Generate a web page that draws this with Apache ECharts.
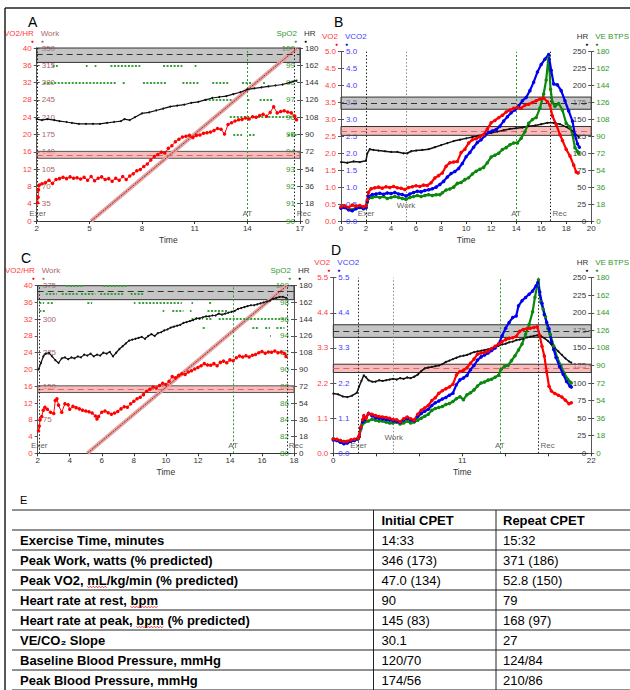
<!DOCTYPE html>
<html>
<head>
<meta charset="utf-8">
<script src="https://cdn.jsdelivr.net/npm/echarts@6/dist/echarts.min.js"></script>
<style>
html,body{margin:0;padding:0;background:#fff;}
#chart{width:630px;height:690px;}
</style>
</head>
<body>
<div id="chart"></div>
<script>
// ---------- Panel A: initial CPET, O2 pulse / work / SpO2 / HR ----------
const hrA = [[2.0,106],[2.3,105],[2.6,106],[3.0,105],[3.3,104],[3.7,103],[4.0,102],[4.4,101],[4.8,101],[5.2,101],[5.6,101],[6.0,102],[6.4,103],[6.8,104],[7.0,106],[7.3,105],[7.6,108],[8.0,112],[8.4,113],[8.8,115],[9.2,117],[9.6,119],[10.0,120],[10.4,121],[10.8,123],[11.2,124],[11.6,126],[12.0,128],[12.4,129],[12.8,130],[13.2,132],[13.6,134],[14.0,137],[14.4,138],[14.8,139],[15.2,140],[15.6,141],[16.0,142],[16.4,144],[16.8,146]];
const o2PulseA = [[2.05,4.2],[2.08,5.5],[2.1,7.2],[2.15,8.3],[2.3,8.6],[2.5,8.9],[2.7,9.4],[2.9,8.7],[3.1,9.6],[3.3,9.8],[3.5,10.1],[3.7,9.8],[3.9,10.2],[4.1,9.9],[4.3,10.0],[4.5,9.7],[4.7,10.1],[4.9,9.4],[5.1,10.3],[5.3,9.3],[5.5,9.9],[5.7,10.2],[5.9,9.6],[6.1,9.8],[6.3,9.2],[6.5,9.9],[6.7,9.4],[6.9,10.3],[7.1,9.6],[7.3,10.4],[7.5,10.9],[7.7,11.6],[7.9,11.9],[8.1,12.6],[8.3,13.2],[8.5,14.1],[8.7,14.9],[8.9,15.4],[9.1,15.9],[9.3,15.7],[9.5,16.8],[9.7,17.4],[9.9,18.3],[10.1,18.9],[10.3,19.4],[10.5,19.6],[10.7,19.8],[10.9,19.3],[11.1,19.8],[11.3,19.9],[11.5,20.3],[11.7,20.4],[11.9,20.6],[12.1,20.9],[12.3,21.4],[12.5,21.2],[12.7,20.1],[12.9,22.3],[13.1,22.7],[13.3,23.1],[13.5,23.4],[13.7,23.5],[13.9,23.8],[14.1,23.6],[14.3,24.1],[14.5,24.0],[14.7,24.4],[14.9,24.7],[15.1,24.2],[15.3,25.1],[15.5,26.4],[15.7,25.0],[15.9,25.3],[16.1,25.5],[16.3,25.2],[16.5,25.0],[16.7,24.3],[16.8,23.4]];
const workA = [[5.1,0],[16.85,350]];
// SpO2 readings: [start min, end min, SpO2 %]
const spo2A = [[2.9,3.2,99],[4.8,4.9,99],[5.3,5.4,99],[6.2,7.9,99],[9.2,10.3,99],[11.0,11.1,99],
  [2.4,6.5,98],[6.9,7.1,98],[8.05,9.4,98],[10.3,11.25,98],[12.0,12.95,98],[13.7,14.3,98],[14.9,15.0,98],
  [11.6,13.1,97],[14.0,14.2,97],[14.7,15.5,97],
  [13.0,16.8,96],
  [13.2,13.7,95],[14.1,14.5,95],[16.3,16.8,95]];
const eventNamesA = ['Exer','AT','Rec'];
const eventTimesA = [2.05,14.0,16.7];

// ---------- Panel B: initial CPET, gas exchange ----------
const vo2B = [[0.0,0.42],[0.3,0.45],[0.6,0.40],[0.9,0.47],[1.2,0.44],[1.5,0.46],[1.8,0.42],[2.0,0.45],[2.1,0.62],[2.2,0.85],[2.4,0.95],[2.7,0.98],[3.0,1.00],[3.3,0.97],[3.6,1.01],[3.9,0.99],[4.2,1.02],[4.5,0.98],[4.8,0.97],[5.1,0.93],[5.4,0.99],[5.7,1.01],[6.0,1.04],[6.3,1.02],[6.6,1.06],[6.9,1.05],[7.2,1.13],[7.5,1.27],[7.8,1.34],[8.1,1.42],[8.4,1.62],[8.7,1.72],[9.0,1.74],[9.3,1.76],[9.6,2.02],[9.9,2.12],[10.2,2.30],[10.5,2.40],[10.8,2.43],[11.1,2.49],[11.4,2.55],[11.7,2.72],[12.0,2.90],[12.3,2.97],[12.6,3.05],[12.9,3.12],[13.2,3.22],[13.5,3.28],[13.8,3.33],[14.1,3.36],[14.4,3.33],[14.7,3.42],[15.0,3.45],[15.3,3.50],[15.6,3.55],[15.9,3.60],[16.2,3.63],[16.5,3.52],[16.7,3.42],[16.9,3.10],[17.2,2.85],[17.5,2.55],[17.7,2.38],[18.0,2.12],[18.3,1.92],[18.6,1.65],[18.8,1.45],[18.95,1.42]];
const vco2B = [[0.0,0.38],[0.3,0.40],[0.6,0.33],[0.9,0.30],[1.2,0.36],[1.5,0.40],[1.8,0.37],[2.0,0.40],[2.1,0.58],[2.2,0.72],[2.5,0.78],[2.8,0.80],[3.1,0.82],[3.4,0.79],[3.7,0.83],[4.0,0.81],[4.3,0.84],[4.6,0.80],[4.9,0.78],[5.2,0.74],[5.5,0.80],[5.8,0.84],[6.1,0.88],[6.4,0.86],[6.7,0.90],[7.0,0.92],[7.3,0.95],[7.6,1.00],[7.9,1.08],[8.2,1.17],[8.5,1.30],[8.8,1.40],[9.1,1.46],[9.4,1.55],[9.7,1.70],[10.0,1.90],[10.3,2.02],[10.6,2.18],[10.9,2.32],[11.2,2.40],[11.5,2.52],[11.8,2.62],[12.1,2.66],[12.4,2.70],[12.7,2.80],[13.0,2.95],[13.3,3.08],[13.6,3.20],[13.9,3.28],[14.2,3.40],[14.5,3.55],[14.8,3.65],[15.1,3.85],[15.4,4.10],[15.7,4.40],[16.0,4.62],[16.3,4.78],[16.6,4.92],[16.8,4.45],[17.0,4.05],[17.3,4.02],[17.6,3.85],[17.9,3.55],[18.2,3.25],[18.5,2.95],[18.7,2.55],[18.9,2.28],[19.05,2.18]];
const veB = [[0.0,14],[0.3,15],[0.6,13],[0.9,12],[1.2,14],[1.5,15],[1.8,13],[2.0,14],[2.1,20],[2.2,24],[2.5,25],[2.8,26],[3.1,25],[3.4,26],[3.7,24],[4.0,25],[4.3,26],[4.6,25],[4.9,24],[5.2,23],[5.5,25],[5.8,26],[6.1,27],[6.4,26],[6.7,27],[7.0,28],[7.3,27],[7.6,28],[7.9,28],[8.1,30],[8.4,33],[8.7,34],[9.0,36],[9.3,40],[9.6,41],[9.9,44],[10.2,46],[10.5,50],[10.8,53],[11.1,55],[11.4,57],[11.7,62],[12.0,68],[12.3,70],[12.6,72],[12.9,76],[13.2,78],[13.5,81],[13.8,83],[14.1,83],[14.4,88],[14.7,95],[15.0,104],[15.3,108],[15.6,110],[15.9,120],[16.2,135],[16.4,150],[16.6,176],[16.75,140],[16.9,126],[17.1,122],[17.4,125],[17.7,118],[18.0,104],[18.3,100],[18.5,92],[18.7,78],[18.9,74],[19.0,72]];
const hrB = [[0.0,87],[0.5,86],[1.0,88],[1.5,87],[2.0,89],[2.1,100],[2.3,106],[2.6,105],[3.0,104],[3.5,103],[4.0,102],[4.5,102],[5.0,100],[5.3,100],[5.6,103],[6.0,104],[6.5,105],[7.0,106],[7.5,109],[8.0,112],[8.5,115],[9.0,118],[9.5,120],[10.0,122],[10.5,124],[11.0,126],[11.5,128],[12.0,130],[12.5,132],[13.0,134],[13.5,136],[14.0,137],[14.5,138],[15.0,140],[15.5,141],[16.0,143],[16.5,145],[17.0,145],[17.5,143],[18.0,139],[18.5,133],[19.0,124]];
const eventNamesB = ['Exer','Work','AT','Rec'];
const eventTimesB = [2.0,5.2,14.0,16.75];

// ---------- Panel C: repeat CPET, O2 pulse / work / SpO2 / HR ----------
const hrC = [[2.05,90],[2.2,97],[2.35,104],[2.5,107],[2.7,108],[2.9,104],[3.1,100],[3.3,97],[3.5,102],[3.7,103],[3.9,101],[4.1,103],[4.3,102],[4.5,104],[4.7,103],[4.9,106],[5.1,105],[5.3,107],[5.5,104],[5.7,106],[5.9,105],[6.1,108],[6.3,107],[6.5,109],[6.7,104],[6.9,108],[7.1,112],[7.3,115],[7.5,118],[7.7,121],[7.9,122],[8.1,123],[8.3,124],[8.5,125],[8.7,123],[8.9,126],[9.1,128],[9.3,126],[9.5,129],[9.7,130],[9.9,132],[10.1,133],[10.3,135],[10.5,136],[10.7,137],[10.9,138],[11.1,140],[11.3,141],[11.5,142],[11.7,143],[11.9,145],[12.1,145],[12.3,146],[12.5,147],[12.7,147],[12.9,148],[13.1,148],[13.3,150],[13.5,149],[13.7,150],[13.9,151],[14.1,152],[14.3,153],[14.5,155],[14.7,156],[14.9,157],[15.1,158],[15.3,159],[15.5,159],[15.7,160],[15.9,161],[16.1,162],[16.3,163],[16.5,164],[16.7,166],[16.9,167],[17.1,168],[17.3,168],[17.5,167]];
const o2PulseC = [[2.05,5.4],[2.1,6.5],[2.15,8.0],[2.25,8.8],[2.35,10.3],[2.45,11.0],[2.6,10.5],[2.8,9.8],[3.0,9.5],[3.1,12.6],[3.2,13.0],[3.3,11.5],[3.5,9.8],[3.7,11.8],[3.9,11.6],[4.0,10.5],[4.2,11.2],[4.4,10.9],[4.6,10.6],[4.8,10.3],[5.0,10.1],[5.2,9.9],[5.4,9.6],[5.6,8.9],[5.7,8.2],[5.8,8.8],[6.0,9.8],[6.2,10.1],[6.4,9.7],[6.6,9.3],[6.8,9.6],[7.0,10.0],[7.2,10.6],[7.4,11.1],[7.6,11.0],[7.8,11.8],[8.0,12.4],[8.2,13.0],[8.4,13.4],[8.6,14.0],[8.8,14.8],[9.0,15.3],[9.2,15.8],[9.4,15.6],[9.6,16.2],[9.8,16.7],[10.0,16.4],[10.2,17.2],[10.4,18.3],[10.6,18.0],[10.8,18.6],[11.0,19.0],[11.2,18.8],[11.4,19.4],[11.6,19.7],[11.8,20.1],[12.0,20.5],[12.2,20.9],[12.4,21.4],[12.6,21.1],[12.8,21.0],[13.0,21.4],[13.2,20.9],[13.4,21.7],[13.6,22.0],[13.8,21.6],[14.0,22.3],[14.2,22.1],[14.4,22.8],[14.6,23.2],[14.8,23.0],[15.0,23.3],[15.2,23.0],[15.4,23.4],[15.6,23.6],[15.8,24.0],[16.0,24.3],[16.2,23.9],[16.4,24.2],[16.6,24.1],[16.8,24.4],[17.0,24.0],[17.2,24.2],[17.4,23.8],[17.5,23.1]];
const workC = [[5.1,0],[17.55,375]];
const spo2C = [[3.8,4.85,100],[6.1,7.55,100],
  [2.5,3.2,99],[3.5,4.5,99],[4.7,5.6,99],[5.9,7.4,99],[7.8,8.6,99],
  [2.1,2.4,98],[2.6,3.0,98],[5.1,5.4,98],[8.0,8.1,98],[8.3,11.0,98],[11.6,11.7,98],[12.7,12.9,98],
  [2.1,2.5,97],[9.8,9.9,97],[10.4,11.1,97],[11.5,11.6,97],[12.6,13.9,97],
  [11.6,12.3,96],[12.5,12.9,96],[13.3,17.5,96],
  [12.3,12.5,95],[15.4,15.8,95],[16.2,16.5,95],[16.9,17.4,95],
  [16.5,16.55,94]];
const eventNamesC = ['Exer','AT','Rec'];
const eventTimesC = [2.1,14.2,17.55];

// ---------- Panel D: repeat CPET, gas exchange ----------
const vo2D = [[0.0,0.45],[0.3,0.44],[0.6,0.40],[0.9,0.37],[1.2,0.38],[1.5,0.42],[1.8,0.44],[2.1,0.47],[2.2,0.55],[2.35,0.82],[2.5,1.05],[2.6,1.18],[2.8,1.10],[3.0,1.25],[3.3,1.22],[3.6,1.18],[3.9,1.15],[4.2,1.14],[4.5,1.12],[4.8,1.10],[5.1,1.06],[5.4,1.05],[5.7,0.99],[6.0,1.08],[6.3,1.14],[6.6,1.08],[6.9,1.04],[7.2,1.22],[7.5,1.35],[7.8,1.42],[8.1,1.50],[8.4,1.65],[8.7,1.74],[9.0,1.88],[9.3,1.96],[9.6,2.02],[9.9,2.08],[10.2,2.16],[10.5,2.45],[10.8,2.56],[11.1,2.60],[11.4,2.68],[11.7,2.82],[12.0,2.95],[12.3,3.10],[12.6,3.14],[12.9,3.16],[13.2,3.20],[13.5,3.28],[13.8,3.35],[14.1,3.42],[14.4,3.50],[14.7,3.56],[15.0,3.60],[15.3,3.62],[15.6,3.66],[15.9,3.82],[16.2,3.88],[16.5,3.90],[16.8,3.92],[17.1,3.94],[17.4,3.96],[17.6,3.70],[17.8,3.35],[18.0,3.05],[18.2,2.55],[18.4,2.10],[18.6,1.95],[18.9,1.87],[19.2,1.82],[19.5,1.76],[19.8,1.66],[20.1,1.55],[20.3,1.58]];
const vco2D = [[0.0,0.42],[0.3,0.40],[0.6,0.35],[0.9,0.30],[1.2,0.32],[1.5,0.38],[1.8,0.40],[2.1,0.45],[2.2,0.52],[2.35,0.80],[2.5,0.98],[2.7,1.05],[3.0,1.25],[3.3,1.18],[3.6,1.12],[3.9,1.10],[4.2,1.08],[4.5,1.06],[4.8,1.04],[5.1,1.02],[5.4,1.00],[5.7,0.97],[6.0,1.04],[6.3,1.10],[6.6,1.04],[6.9,1.02],[7.2,1.15],[7.5,1.25],[7.8,1.32],[8.1,1.38],[8.4,1.50],[8.7,1.58],[9.0,1.64],[9.3,1.70],[9.6,1.75],[9.9,1.82],[10.2,1.88],[10.5,2.15],[10.8,2.30],[11.1,2.36],[11.4,2.44],[11.7,2.62],[12.0,2.75],[12.3,2.92],[12.6,3.02],[12.9,3.08],[13.2,3.14],[13.5,3.22],[13.8,3.30],[14.1,3.42],[14.4,3.68],[14.7,3.92],[15.0,4.10],[15.3,4.25],[15.6,4.30],[15.8,4.62],[16.1,4.78],[16.4,4.88],[16.7,4.98],[17.0,5.08],[17.3,5.25],[17.45,5.35],[17.6,5.05],[17.8,4.70],[18.0,4.35],[18.2,4.10],[18.4,3.90],[18.6,3.50],[18.8,3.25],[19.0,3.00],[19.3,2.72],[19.6,2.48],[19.9,2.25],[20.2,2.10],[20.3,2.08]];
const veD = [[0.0,15],[0.3,14],[0.6,13],[0.9,12],[1.2,12],[1.5,13],[1.8,14],[2.1,15],[2.2,17],[2.35,25],[2.5,30],[2.7,32],[3.0,33],[3.3,35],[3.6,34],[3.9,33],[4.2,33],[4.5,32],[4.8,31],[5.1,31],[5.4,32],[5.7,30],[6.0,31],[6.3,33],[6.6,31],[6.9,32],[7.2,34],[7.5,36],[7.8,38],[8.1,40],[8.4,44],[8.7,46],[9.0,47],[9.3,48],[9.6,50],[9.9,51],[10.2,53],[10.5,56],[10.8,58],[11.1,55],[11.4,60],[11.7,62],[12.0,65],[12.3,69],[12.6,72],[12.9,73],[13.2,75],[13.5,76],[13.8,78],[14.1,80],[14.3,86],[14.6,89],[14.9,90],[15.2,95],[15.5,100],[15.8,106],[16.1,112],[16.4,122],[16.7,132],[17.0,145],[17.2,160],[17.4,172],[17.5,178],[17.6,165],[17.7,155],[17.9,148],[18.1,140],[18.3,128],[18.5,122],[18.8,110],[19.1,98],[19.4,90],[19.7,82],[20.0,76],[20.2,73],[20.3,72]];
const hrD = [[0.0,85],[0.4,84],[0.8,81],[1.2,80],[1.6,82],[2.0,86],[2.2,95],[2.4,103],[2.6,111],[2.8,108],[3.0,104],[3.3,102],[3.6,102],[3.9,104],[4.2,103],[4.5,104],[4.8,105],[5.1,106],[5.4,105],[5.7,107],[6.0,106],[6.3,108],[6.6,107],[6.9,109],[7.2,112],[7.5,117],[7.8,121],[8.1,122],[8.4,123],[8.7,124],[9.0,125],[9.3,127],[9.6,130],[9.9,132],[10.2,134],[10.5,136],[10.8,138],[11.1,139],[11.4,140],[11.7,142],[12.0,144],[12.3,145],[12.6,146],[12.9,147],[13.2,148],[13.5,149],[13.8,151],[14.1,153],[14.4,155],[14.7,156],[15.0,158],[15.3,159],[15.6,161],[15.9,162],[16.2,163],[16.5,165],[16.8,166],[17.1,167],[17.4,168],[17.7,167],[18.0,164],[18.3,160],[18.6,155],[18.9,150],[19.2,145],[19.5,140],[19.8,135],[20.1,131],[20.3,129]];
const eventNamesD = ['Exer','Work','AT','Rec'];
const eventTimesD = [2.15,5.15,14.2,17.5];

// Predicted reference bands: [low, predicted, high]
const hrBand = [165,174,183];
const o2PulseBand = [14.5,15.3,16.1];
const vo2Band = [2.53,2.66,2.79];

// ---------- Panel E: summary table ----------
const tableHeader = ['Initial CPET','Repeat CPET'];
const tableLabels = ['Exercise Time, minutes','Peak Work, watts (% predicted)','Peak VO2, mL/kg/min (% predicted)','Heart rate at rest, bpm','Heart rate at peak, bpm (% predicted)','VE/CO\u2082 Slope','Baseline Blood Pressure, mmHg','Peak Blood Pressure, mmHg'];
const tableInitial = ['14:33','346 (173)','47.0 (134)','90','145 (83)','30.1','120/70','174/56'];
const tableRepeat = ['15:32','371 (186)','52.8 (150)','79','168 (97)','27','124/84','210/86'];

// ---------- styling ----------
const FONT = '"Liberation Sans", Arial, sans-serif';
const C_RED = '#ff0000', C_BLUE = '#0000ee', C_VE = '#0b870b', C_SPO2 = '#39a039', C_HR = '#111111';
const T_RED = '#ff3a3a', T_BLUE = '#4040ff', T_GREEN = '#2f9a2f', T_DARK = '#333333', T_WORK = '#a86868';
const AX = '#555555';

function xAxisDef(grid, min, max, step, minor) {
  return {
    type: 'value', gridIndex: grid, min: min, max: max, interval: step,
    name: 'Time', nameLocation: 'middle', nameGap: 14,
    nameTextStyle: { color: T_DARK, fontSize: 8.5, fontFamily: FONT },
    axisLine: { onZero: false, lineStyle: { color: '#333', width: 1 } },
    axisTick: { length: 3, lineStyle: { color: '#333' } },
    minorTick: { show: !!minor, splitNumber: minor || 5, length: 3, lineStyle: { color: '#333' } },
    axisLabel: { color: T_DARK, fontSize: 8, fontFamily: FONT, margin: 3 },
    splitLine: { show: false }
  };
}

function yAxisDef(o) {
  const pad = o.nameAlign === 'right' ? [0, 3, 0, 0] : [0, 0, 0, 4];
  return {
    type: 'value', gridIndex: o.grid, position: o.side, min: o.min, max: o.max, interval: o.step,
    name: o.name + '\n{m|\u25CF}', nameLocation: 'end', nameGap: 3,
    nameTextStyle: {
      color: o.color, fontSize: 8, fontFamily: FONT, lineHeight: 8, align: o.nameAlign, padding: pad,
      rich: { m: { color: o.mark, fontSize: 5, lineHeight: 7 } }
    },
    axisLine: { show: true, onZero: false, lineStyle: { color: AX, width: 1 } },
    axisTick: { show: true, inside: o.inside, length: 3, lineStyle: { color: AX } },
    axisLabel: { inside: o.inside, margin: 5, color: o.color, fontSize: 8, lineHeight: 8, fontFamily: FONT, formatter: o.fmt },
    splitLine: { show: false }
  };
}

const fix1 = v => v.toFixed(1);
const noZero = v => (v === 0 ? '' : String(v));

const eventStyle = {
  Exer: { color: '#222', type: [1.5, 2], width: 1 },
  Work: { color: '#888', type: [1.5, 2], width: 1 },
  AT: { color: '#2a9d2a', type: [2, 2], width: 1 },
  Rec: { color: '#222', type: [1.5, 2], width: 1 }
};

function eventLines(xi, yi, names, times) {
  return {
    type: 'line', xAxisIndex: xi, yAxisIndex: yi, data: [], z: 2, silent: true,
    markLine: { silent: true, symbol: 'none', label: { show: false }, animation: false,
      data: times.map((t, i) => ({ xAxis: t, lineStyle: eventStyle[names[i]] })) }
  };
}

function eventLabels(xi, yi, names, times) {
  return {
    type: 'scatter', xAxisIndex: xi, yAxisIndex: yi, symbolSize: 0, z: 8, silent: true,
    data: times.map((t, i) => {
      const n = names[i];
      let lab;
      if (n === 'Rec') lab = { position: [2, -12] };
      else if (n === 'Work') lab = { position: 'top', distance: 12 };
      else lab = { position: 'top', distance: 4 };
      return { value: [t, 0], name: n, label: lab };
    }),
    label: { show: true, formatter: p => p.name, color: T_DARK, fontSize: 8, lineHeight: 8, fontFamily: FONT }
  };
}

function bandSeries(xi, yi, lims, fill, border, dash) {
  return {
    type: 'line', xAxisIndex: xi, yAxisIndex: yi, data: [], z: 1, silent: true, clip: false,
    markArea: { silent: true, itemStyle: { color: fill, borderColor: border, borderWidth: 1 },
      data: [[{ yAxis: lims[0] }, { yAxis: lims[2] }]] },
    markLine: { silent: true, symbol: 'none', label: { show: false },
      lineStyle: { color: dash, type: [6, 4], width: 1 }, data: [{ yAxis: lims[1] }] }
  };
}

function trace(data, xi, yi, color, width, size, z) {
  return {
    type: 'line', xAxisIndex: xi, yAxisIndex: yi, data: data, z: z || 5, silent: true,
    symbol: 'circle', symbolSize: size, showSymbol: size > 0, showAllSymbol: true,
    itemStyle: { color: color }, lineStyle: { color: color, width: width }
  };
}

function workRamp(data, xi, yi) {
  return [
    { type: 'line', xAxisIndex: xi, yAxisIndex: yi, data: data, z: 3, silent: true, showSymbol: false,
      lineStyle: { color: '#e6a3a3', width: 4 } },
    { type: 'line', xAxisIndex: xi, yAxisIndex: yi, data: data, z: 3, silent: true, showSymbol: false,
      lineStyle: { color: '#9b2a2a', width: 1, type: [2, 1] } }
  ];
}

function spo2Series(segs, xi, yi) {
  return {
    type: 'lines', coordinateSystem: 'cartesian2d', xAxisIndex: xi, yAxisIndex: yi, z: 4, silent: true,
    lineStyle: { color: C_SPO2, width: 2, type: [2, 1.5], opacity: 1 },
    data: segs.map(s => ({ coords: [[s[0], s[2]], [s[1], s[2]]] }))
  };
}

const grids = [
  { left: 36.7, top: 48, width: 263.3, height: 173 },
  { left: 341, top: 51.7, width: 255.7, height: 169.3 },
  { left: 37.7, top: 285.7, width: 256.3, height: 167.6 },
  { left: 333.3, top: 277.7, width: 266, height: 175.6 }
];

const xAxes = [
  xAxisDef(0, 2, 17, 3),
  xAxisDef(1, 0, 20, 2),
  xAxisDef(2, 2, 18, 2),
  xAxisDef(3, 0, 22, 11, 3)
];

const yAxes = [
  // A
  yAxisDef({ grid: 0, side: 'left', min: 0, max: 40, step: 4, color: T_RED, mark: C_RED, inside: false, name: 'VO2/HR', nameAlign: 'right' }),
  yAxisDef({ grid: 0, side: 'left', min: 0, max: 350, step: 35, color: T_WORK, mark: T_WORK, inside: true, name: 'Work', nameAlign: 'left', fmt: noZero }),
  yAxisDef({ grid: 0, side: 'right', min: 90, max: 100, step: 1, color: T_GREEN, mark: C_SPO2, inside: true, name: 'SpO2', nameAlign: 'right' }),
  yAxisDef({ grid: 0, side: 'right', min: 0, max: 180, step: 18, color: T_DARK, mark: C_HR, inside: false, name: 'HR', nameAlign: 'left' }),
  // B
  yAxisDef({ grid: 1, side: 'left', min: 0, max: 5, step: 0.5, color: T_RED, mark: C_RED, inside: false, name: 'VO2', nameAlign: 'right', fmt: fix1 }),
  yAxisDef({ grid: 1, side: 'left', min: 0, max: 5, step: 0.5, color: T_BLUE, mark: C_BLUE, inside: true, name: 'VCO2', nameAlign: 'left', fmt: fix1 }),
  yAxisDef({ grid: 1, side: 'right', min: 0, max: 250, step: 25, color: T_DARK, mark: C_HR, inside: true, name: 'HR', nameAlign: 'right' }),
  yAxisDef({ grid: 1, side: 'right', min: 0, max: 180, step: 18, color: T_GREEN, mark: C_VE, inside: false, name: 'VE BTPS', nameAlign: 'left' }),
  // C
  yAxisDef({ grid: 2, side: 'left', min: 0, max: 40, step: 4, color: T_RED, mark: C_RED, inside: false, name: 'VO2/HR', nameAlign: 'right' }),
  yAxisDef({ grid: 2, side: 'left', min: 0, max: 375, step: 75, color: T_WORK, mark: T_WORK, inside: true, name: 'Work', nameAlign: 'left', fmt: noZero }),
  yAxisDef({ grid: 2, side: 'right', min: 80, max: 100, step: 2, color: T_GREEN, mark: C_SPO2, inside: true, name: 'SpO2', nameAlign: 'right' }),
  yAxisDef({ grid: 2, side: 'right', min: 0, max: 180, step: 18, color: T_DARK, mark: C_HR, inside: false, name: 'HR', nameAlign: 'left' }),
  // D
  yAxisDef({ grid: 3, side: 'left', min: 0, max: 5.5, step: 1.1, color: T_RED, mark: C_RED, inside: false, name: 'VO2', nameAlign: 'right', fmt: fix1 }),
  yAxisDef({ grid: 3, side: 'left', min: 0, max: 5.5, step: 1.1, color: T_BLUE, mark: C_BLUE, inside: true, name: 'VCO2', nameAlign: 'left', fmt: fix1 }),
  yAxisDef({ grid: 3, side: 'right', min: 0, max: 250, step: 25, color: T_DARK, mark: C_HR, inside: true, name: 'HR', nameAlign: 'right' }),
  yAxisDef({ grid: 3, side: 'right', min: 0, max: 180, step: 18, color: T_GREEN, mark: C_VE, inside: false, name: 'VE BTPS', nameAlign: 'left' })
];

const GRAY_FILL = 'rgba(150,150,150,0.55)', PINK_FILL = 'rgba(246,160,160,0.7)';

const series = [
  // A
  bandSeries(0, 3, hrBand, GRAY_FILL, '#333', '#333'),
  bandSeries(0, 0, o2PulseBand, PINK_FILL, '#555', '#d86a6a'),
  eventLines(0, 0, eventNamesA, eventTimesA),
  ...workRamp(workA, 0, 1),
  spo2Series(spo2A, 0, 2),
  trace(hrA, 0, 3, C_HR, 1.2, 2),
  trace(o2PulseA, 0, 0, C_RED, 1, 3.5, 6),
  eventLabels(0, 0, eventNamesA, eventTimesA),
  // B
  bandSeries(1, 6, hrBand, GRAY_FILL, '#333', '#333'),
  bandSeries(1, 4, vo2Band, PINK_FILL, '#333', '#d86a6a'),
  eventLines(1, 4, eventNamesB, eventTimesB),
  trace(hrB, 1, 6, C_HR, 1.5, 2),
  trace(veB, 1, 7, C_VE, 2.2, 3.5),
  trace(vco2B, 1, 5, C_BLUE, 2.2, 3.5),
  trace(vo2B, 1, 4, C_RED, 2.2, 3.5),
  eventLabels(1, 4, eventNamesB, eventTimesB),
  // C
  bandSeries(2, 11, hrBand, GRAY_FILL, '#333', '#333'),
  bandSeries(2, 8, o2PulseBand, PINK_FILL, '#555', '#d86a6a'),
  eventLines(2, 8, eventNamesC, eventTimesC),
  ...workRamp(workC, 2, 9),
  spo2Series(spo2C, 2, 10),
  trace(hrC, 2, 11, C_HR, 1.2, 2),
  trace(o2PulseC, 2, 8, C_RED, 1, 3.5, 6),
  eventLabels(2, 8, eventNamesC, eventTimesC),
  // D
  bandSeries(3, 14, hrBand, GRAY_FILL, '#333', '#333'),
  bandSeries(3, 12, vo2Band, PINK_FILL, '#333', '#d86a6a'),
  eventLines(3, 12, eventNamesD, eventTimesD),
  trace(hrD, 3, 14, C_HR, 1.5, 2),
  trace(veD, 3, 15, C_VE, 2.2, 3.5),
  trace(vco2D, 3, 13, C_BLUE, 2.2, 3.5),
  trace(vo2D, 3, 12, C_RED, 2.2, 3.5),
  eventLabels(3, 12, eventNamesD, eventTimesD)
];

// ---------- graphic layer: frame, panel letters, table ----------
const TFONT_B = 'bold 13px "Liberation Sans", Arial, sans-serif';
const TFONT = '13px "Liberation Sans", Arial, sans-serif';

function gText(x, y, text, font, align, color) {
  return { type: 'text', x: x, y: y, silent: true, z: 100,
    style: { text: text, font: font, fill: color || '#000', align: align || 'left', verticalAlign: 'middle',
      textAlign: align || 'left', textVerticalAlign: 'middle' } };
}
function gLine(x1, y1, x2, y2, w, c) {
  return { type: 'line', silent: true, z: 100, shape: { x1: x1, y1: y1, x2: x2, y2: y2 },
    style: { stroke: c || '#000', lineWidth: w || 1 } };
}

const graphic = [];
graphic.push(gLine(5, 8, 630, 8, 1.5, '#222'));
graphic.push(gLine(5, 8, 5, 690, 1.5, '#222'));
const LETTER_FONT = '14px "Liberation Sans", Arial, sans-serif';
graphic.push(gText(28, 22, 'A', LETTER_FONT));
graphic.push(gText(334, 22, 'B', LETTER_FONT));
graphic.push(gText(21, 258, 'C', LETTER_FONT));
graphic.push(gText(331, 250, 'D', LETTER_FONT));
graphic.push(gText(20, 500, 'E', '11px "Liberation Sans", Arial, sans-serif'));

const TAB_TOP = 510, ROW_H = 20, COL1 = 373.5, COL2 = 496;
for (let i = 0; i <= tableLabels.length + 1; i++) {
  graphic.push(gLine(12, TAB_TOP + i * ROW_H, 630, TAB_TOP + i * ROW_H, 1, '#222'));
}
graphic.push(gLine(COL1, TAB_TOP, COL1, 690, 1, '#222'));
graphic.push(gLine(COL2, TAB_TOP, COL2, 690, 1, '#222'));
graphic.push(gText(COL1 + 8, TAB_TOP + ROW_H / 2, tableHeader[0], TFONT_B));
graphic.push(gText(COL2 + 7, TAB_TOP + ROW_H / 2, tableHeader[1], TFONT_B));
tableLabels.forEach((lab, i) => {
  const y = TAB_TOP + ROW_H * (i + 1) + ROW_H / 2;
  graphic.push(gText(20, y, lab, TFONT_B));
  graphic.push(gText(COL1 + 8, y, tableInitial[i], TFONT));
  graphic.push(gText(COL2 + 7, y, tableRepeat[i], TFONT));
});

// wavy spell-check underlines under unit abbreviations
const measure = document.createElement('canvas').getContext('2d');
measure.font = TFONT_B;
function squiggle(rowIdx, word) {
  const lab = tableLabels[rowIdx];
  const k = lab.indexOf(word);
  const x0 = 20 + measure.measureText(lab.slice(0, k)).width;
  const x1 = x0 + measure.measureText(word).width;
  const y = TAB_TOP + ROW_H * (rowIdx + 1) + ROW_H / 2 + 7;
  const pts = [];
  let up = true;
  for (let x = x0; x <= x1; x += 1.5) { pts.push([x, up ? y - 0.8 : y + 0.8]); up = !up; }
  graphic.push({ type: 'polyline', silent: true, z: 101, shape: { points: pts },
    style: { stroke: '#e02020', lineWidth: 0.8, fill: null } });
}
squiggle(2, 'mL');
squiggle(3, 'bpm');
squiggle(4, 'bpm');

const chart = echarts.init(document.getElementById('chart'), null, { renderer: 'svg', width: 630, height: 690 });
chart.setOption({
  animation: false,
  backgroundColor: '#ffffff',
  textStyle: { fontFamily: FONT },
  grid: grids,
  xAxis: xAxes,
  yAxis: yAxes,
  series: series,
  graphic: graphic
});
</script>
</body>
</html>
